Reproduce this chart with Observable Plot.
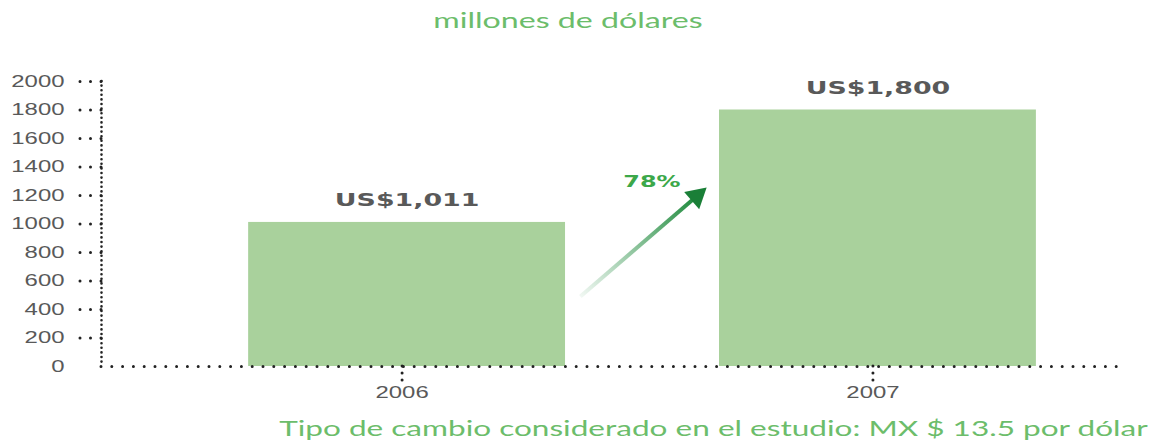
<!DOCTYPE html>
<html>
<head>
<meta charset="utf-8">
<script src="https://cdn.jsdelivr.net/npm/d3@7"></script>
<script src="https://cdn.jsdelivr.net/npm/@observablehq/plot@0.6"></script>
<style>
  body { margin: 0; background: #fff; }
  #wrap { position: relative; width: 1156px; height: 443px; overflow: hidden; background: #fff; }
  #title { position: absolute; top: 7px; left: 568px; transform: translateX(-50%) scaleX(1.53);
           font-family: Lato, sans-serif; font-size: 21px; color: #6cbd6b; white-space: nowrap; }
  #chart { position: absolute; top: 50px; left: 0; }
  #note { position: absolute; top: 414px; right: 8px; transform-origin: right center; transform: scaleX(1.434);
          font-family: Lato, sans-serif; font-size: 22px; color: #6cbd6b; white-space: nowrap; }
</style>
</head>
<body>
<div id="wrap">
  <div id="title"></div>
  <div id="chart"></div>
  <div id="note"></div>
</div>
<script>
// ---- data ----
const years = [2006, 2007];
const values = [1011, 1800];
const valueLabels = ["US$1,011", "US$1,800"];
const yTicks = [0, 200, 400, 600, 800, 1000, 1200, 1400, 1600, 1800, 2000];
const growthLabel = ["78%"];
const growthAt = [2006.52, 1300];     // [year, value] where the growth label sits
const arrowFrom = [2006.368, 491];    // [year, value] arrow tail
const arrowTo = [2006.615, 1195];     // [year, value] arrow head
const titleText = "millones de dólares";
const noteText = "Tipo de cambio considerado en el estudio: MX $ 13.5 por dólar";

// ---- derived tables ----
const bars = years.map((year, i) => ({year, value: values[i], label: valueLabels[i]}));
const arrow = [{x1: arrowFrom[0], y1: arrowFrom[1], x2: arrowTo[0], y2: arrowTo[1]}];
const growth = growthLabel.map(t => ({x: growthAt[0], y: growthAt[1], t}));
const HALF = 0.3365;
const xDomain = [2005.351, 2007.53];

document.getElementById("title").textContent = titleText;
document.getElementById("note").textContent = noteText;

const defs = () => {
  const d = d3.create("svg:defs");
  const g = d.append("linearGradient").attr("id", "arrowGrad")
    .attr("x1", "0").attr("y1", "1").attr("x2", "1").attr("y2", "0");
  g.append("stop").attr("offset", "0").attr("stop-color", "#1e8a3c").attr("stop-opacity", 0.06);
  g.append("stop").attr("offset", "1").attr("stop-color", "#1e8a3c").attr("stop-opacity", 1);
  return d.node();
};

const dotted = {stroke: "#222", strokeLinecap: "round"};

const chart = Plot.plot({
  width: 1156, height: 360,
  marginLeft: 101, marginRight: 29, marginTop: 31, marginBottom: 44,
  x: {domain: xDomain},
  y: {domain: [0, 2000]},
  style: {fontFamily: "Liberation Sans", background: "white"},
  marks: [
    defs,
    Plot.rectY(bars, {x1: d => d.year - HALF, x2: d => d.year + HALF, y: "value", fill: "#a9d19c"}),
    Plot.ruleY([0], {...dotted, strokeWidth: 3, strokeDasharray: "0,10.8"}),
    Plot.ruleX([xDomain[0]], {...dotted, strokeWidth: 2.6, strokeDasharray: "0,4.6"}),
    Plot.axisY({ticks: yTicks.slice(1), tickSize: 30, tickFormat: () => "", ...dotted, strokeWidth: 3, strokeDasharray: "0,10.5"}),
    Plot.axisY({ticks: yTicks, tickSize: 0, tickPadding: 37, tickFormat: "d", fontSize: 16.5, fill: "#595959"}),
    Plot.axisX({ticks: years, tickSize: 16, tickPadding: 4, tickFormat: "d", fontSize: 16.5, fill: "#595959", dx: -5,
                ...dotted, strokeWidth: 3, strokeDasharray: "0,7"}),
    Plot.text(bars, {x: "year", y: "value", text: "label", dy: -22, fontSize: 18.5, fontWeight: "bold",
                     fontFamily: "DejaVu Sans", fill: "#595959"}),
    Plot.link(arrow, {x1: "x1", y1: "y1", x2: "x2", y2: "y2", stroke: "url(#arrowGrad)", strokeWidth: 4}),
    Plot.dot([{x: arrowTo[0], y: arrowTo[1]}], {x: "x", y: "y", symbol: "triangle", r: 8.5, fill: "#1a7f37", stroke: "none", rotate: 49}),
    Plot.text(growth, {x: "x", y: "y", text: "t", fontSize: 16.5, fontWeight: "bold", fontFamily: "DejaVu Sans", fill: "#3ca84a"})
  ]
});

// horizontal stretch of text, as in the reference
const K = 1.45;
chart.querySelectorAll("text").forEach(t => {
  const x = +t.getAttribute("x") || 0, y = +t.getAttribute("y") || 0;
  const tr = t.getAttribute("transform") || "";
  t.setAttribute("transform", `${tr} translate(${x},${y}) scale(${K},1) translate(${-x},${-y})`);
});

document.getElementById("chart").appendChild(chart);
</script>
</body>
</html>
